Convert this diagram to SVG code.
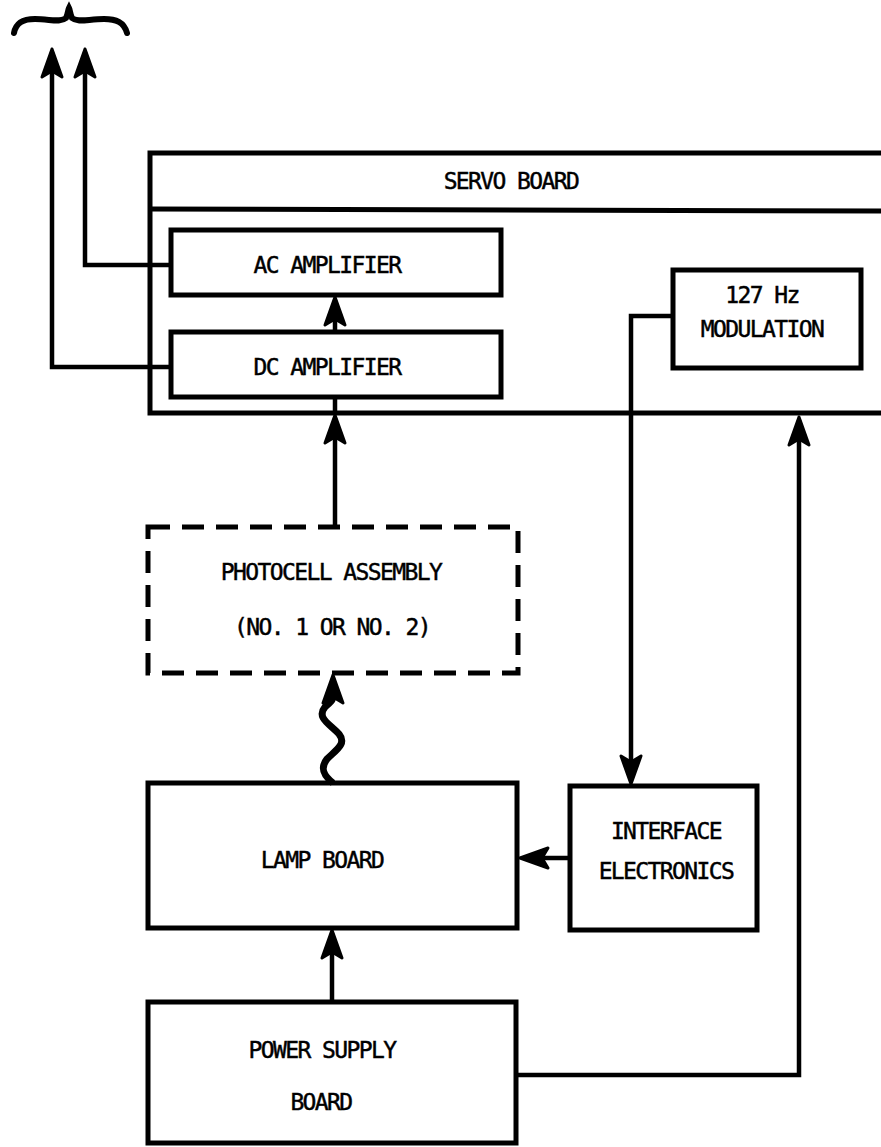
<svg xmlns="http://www.w3.org/2000/svg" width="881" height="1147" viewBox="0 0 881 1147">
<style>
.box{fill:none;stroke:#000;stroke-width:5}
.dash{fill:none;stroke:#000;stroke-width:5;stroke-dasharray:22,12}
.pl{fill:none;stroke:#000;stroke-width:4.5}
.head{fill:#000;stroke:#000;stroke-width:3;stroke-linejoin:round}
text{font-family:"DejaVu Sans Mono","Liberation Mono",monospace;font-size:23px;letter-spacing:-1.6px;fill:#000;stroke:#000;stroke-width:0.45;text-anchor:middle}
</style>
<defs>
<polygon id="ah" points="-1,0 -29,-10 -23,0 -29,10"/>
</defs>
<g id="brace"><path d="M14,33 C16,22 24,19 35,19 C50,19 60,23 66,18 C68,14 68,10 69,8 C70,10 70,14 72,18 C78,23 88,19 104,19 C116,19 124,22 127,33" fill="none" stroke="#000" stroke-width="6" stroke-linecap="round"/></g>
<g id="servo-board">
<rect class="box" x="150" y="153" width="760" height="260"/>
<line class="pl" x1="150" y1="209" x2="900" y2="211" style="stroke-width:5"/>
<text x="511" y="189">SERVO BOARD</text>
</g>
<g id="ac-amplifier"><rect class="box" x="171" y="230" width="330" height="65"/><text x="327" y="273">AC AMPLIFIER</text></g>
<g id="dc-amplifier"><rect class="box" x="171" y="332" width="330" height="65"/><text x="327" y="375">DC AMPLIFIER</text></g>
<g id="modulation"><rect class="box" x="673" y="270" width="188" height="98"/><text x="762" y="303">127 Hz</text><text x="762" y="337">MODULATION</text></g>
<g id="photocell"><rect class="dash" x="148" y="527" width="370" height="146"/><text x="331" y="580">PHOTOCELL ASSEMBLY</text><text x="332" y="635">(NO. 1 OR NO. 2)</text></g>
<g id="lamp-board"><rect class="box" x="148" y="783" width="369" height="145"/><text x="322" y="868">LAMP BOARD</text></g>
<g id="interface"><rect class="box" x="570" y="786" width="187" height="144"/><text x="666" y="839">INTERFACE</text><text x="666" y="879">ELECTRONICS</text></g>
<g id="power-supply"><rect class="box" x="148" y="1002" width="368" height="141"/><text x="322" y="1058">POWER SUPPLY</text><text x="321" y="1110">BOARD</text></g>
<g id="connectors">
<path class="pl" d="M171,367 H52 V66"/>
<path class="pl" d="M171,265 H85 V66"/>
<path class="pl" d="M335,332 V312"/>
<path class="pl" d="M335,398 V414"/>
<path class="pl" d="M335,527 V432"/>
<path class="pl" d="M673,316 H631 V767"/>
<path class="pl" d="M516,1075 H799 V434"/>
<path class="pl" d="M570,858 H537"/>
<path class="pl" d="M332,1002 V947"/>
<path d="M333,783 C323,775 320,768 327,759 C336,750 347,744 339,734 C330,724 316,718 325,707 C330,702 333,701 333,697 L333,692" fill="none" stroke="#000" stroke-width="7"/>
<use href="#ah" class="head" transform="translate(52,48) rotate(-90)"/>
<use href="#ah" class="head" transform="translate(85,48) rotate(-90)"/>
<use href="#ah" class="head" transform="translate(335,296) rotate(-90)"/>
<use href="#ah" class="head" transform="translate(335,414) rotate(-90)"/>
<use href="#ah" class="head" transform="translate(631,785) rotate(90)"/>
<use href="#ah" class="head" transform="translate(799,416) rotate(-90)"/>
<use href="#ah" class="head" transform="translate(519,858) rotate(180)"/>
<use href="#ah" class="head" transform="translate(332,929) rotate(-90)"/>
<use href="#ah" class="head" transform="translate(333,674) rotate(-90)"/>
</g>
</svg>
